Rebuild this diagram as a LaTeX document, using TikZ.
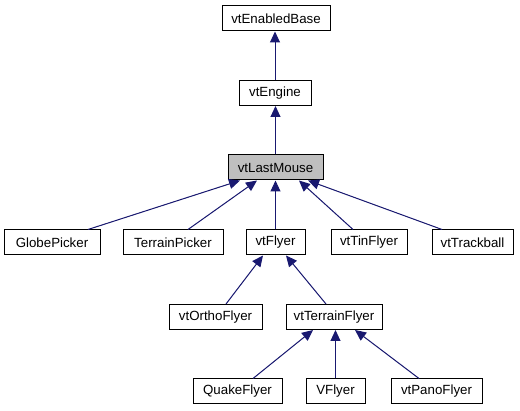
\documentclass[tikz,border=0pt]{standalone}
\usepackage{fontspec}
\setmainfont{Liberation Sans}
\usetikzlibrary{arrows.meta}
\definecolor{edgeblue}{RGB}{25,25,112}
\definecolor{boxgray}{RGB}{191,191,191}
\begin{document}
\begin{tikzpicture}[x=1pt,y=-1pt,
  cls/.style={draw=black, line width=1pt, fill=white, minimum height=25pt, inner sep=0pt,
    font=\fontsize{13.3pt}{15pt}\selectfont, anchor=center},
  cur/.style={cls, fill=boxgray},
  inh/.style={draw=edgeblue, line width=1pt, -{Triangle[length=11pt,width=10pt]}, fill=edgeblue}]
\useasboundingbox (0,0) rectangle (520,411);
\node[cls, minimum width=108pt] (eb) at (276,18.5) {vtEnabledBase};
\node[cls, minimum width=72pt] (en) at (275,93) {vtEngine};
\node[cur, minimum width=95pt] (lm) at (275.5,167.5) {vtLastMouse};
\node[cls, minimum width=96pt] (gp) at (52,242.5) {GlobePicker};
\node[cls, minimum width=100pt] (tp) at (173,242.5) {TerrainPicker};
\node[cls, minimum width=59pt] (fl) at (275.5,242.5) {vtFlyer};
\node[cls, minimum width=76pt] (tf) at (369,242.5) {vtTinFlyer};
\node[cls, minimum width=81pt] (tb) at (472.5,242.5) {vtTrackball};
\node[cls, minimum width=93pt] (of) at (215.5,317) {vtOrthoFlyer};
\node[cls, minimum width=96pt] (trf) at (334,317) {vtTerrainFlyer};
\node[cls, minimum width=89pt] (qf) at (237.5,391.5) {QuakeFlyer};
\node[cls, minimum width=59pt] (vf) at (335.5,391.5) {VFlyer};
\node[cls, minimum width=91pt] (pf) at (436.5,391.5) {vtPanoFlyer};

\draw[inh] (en.north) -- (en.north |- eb.south);
\draw[inh] (lm.north) -- (lm.north |- en.south);
\draw[inh] ([xshift=36pt]gp.north) -- ([xshift=-35.5pt]lm.south);
\draw[inh] ([xshift=15pt]tp.north) -- ([xshift=-18.5pt]lm.south);
\draw[inh] (fl.north) -- (lm.south);
\draw[inh] ([xshift=-16pt]tf.north) -- ([xshift=23.5pt]lm.south);
\draw[inh] ([xshift=-30.5pt]tb.north) -- ([xshift=32.5pt]lm.south);
\draw[inh] ([xshift=10.5pt]of.north) -- ([xshift=-12.5pt]fl.south);
\draw[inh] ([xshift=-8pt]trf.north) -- ([xshift=10.5pt]fl.south);
\draw[inh] ([xshift=15.5pt]qf.north) -- ([xshift=-21pt]trf.south);
\draw[inh] (vf.north) -- (vf.north |- trf.south);
\draw[inh] ([xshift=-17.5pt]pf.north) -- ([xshift=21pt]trf.south);
\end{tikzpicture}
\end{document}
